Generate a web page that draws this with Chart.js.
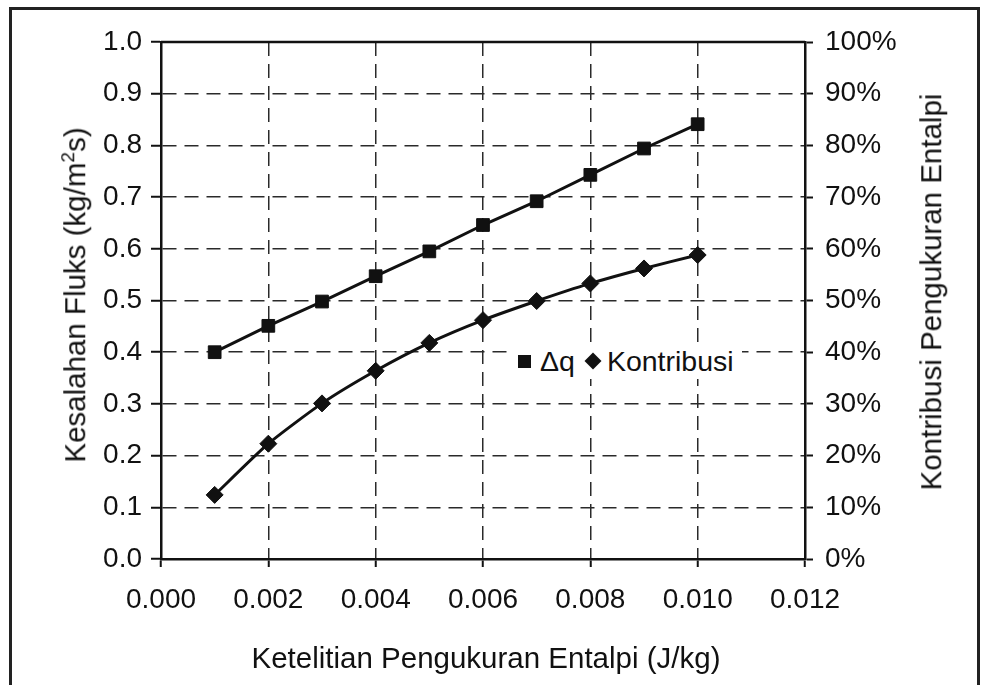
<!DOCTYPE html>
<html>
<head>
<meta charset="utf-8">
<script src="https://cdn.jsdelivr.net/npm/chart.js@4"></script>
<style>
  html, body { margin: 0; padding: 0; background: #fff; }
  body { width: 983px; height: 685px; position: relative; overflow: hidden; font-family: "Liberation Sans", Arial, sans-serif; color: #111; }
  #frame { position: absolute; left: 9px; top: 7px; width: 971px; height: 700px; border: 3px solid #222; box-sizing: border-box; }
  #wrap { position: absolute; left: 0; top: 0; width: 983px; height: 685px; }
  .title { position: absolute; font-size: 29.5px; white-space: nowrap; line-height: 1; }
  #xt { left: 486px; top: 658px; transform: translate(-50%, -50%); }
  #ylt { left: 75px; top: 295px; transform: translate(-50%, -50%) rotate(-90deg); }
  #yrt { left: 931px; top: 292px; transform: translate(-50%, -50%) rotate(-90deg); }
  sup { font-size: 19px; vertical-align: 11px; line-height: 0; }
  #legend { position: absolute; left: 510px; top: 343px; height: 36px; font-size: 28.5px; line-height: 36px; display: flex; align-items: center; background: #fff; padding: 0 8px; }
  .sq { display: inline-block; width: 13px; height: 13px; background: #111; margin-right: 9px; }
  .dm { display: inline-block; width: 12px; height: 12px; background: #111; transform: rotate(45deg); margin: 0 8px 0 12px; }
</style>
</head>
<body>
<div id="frame"></div>
<div id="wrap"><canvas id="c" width="983" height="685"></canvas></div>
<div class="title" id="xt"></div>
<div class="title" id="ylt"></div>
<div class="title" id="yrt"></div>
<div id="legend"><span class="sq"></span><span id="lg1"></span><span class="dm"></span><span id="lg2"></span></div>
<script>
const xValues = [0.001, 0.002, 0.003, 0.004, 0.005, 0.006, 0.007, 0.008, 0.009, 0.010];
const deltaQ = [0.40, 0.451, 0.498, 0.547, 0.595, 0.646, 0.692, 0.743, 0.794, 0.841];
const kontribusi = [12.4, 22.3, 30.1, 36.4, 41.8, 46.2, 49.9, 53.3, 56.2, 58.8];
const seriesNames = ["Δq", "Kontribusi"];
const xTitle = "Ketelitian Pengukuran Entalpi (J/kg)";
const yLeftTitle = "Kesalahan Fluks (kg/m<sup>2</sup>s)";
const yRightTitle = "Kontribusi Pengukuran Entalpi";

document.getElementById('xt').textContent = xTitle;
document.getElementById('ylt').innerHTML = yLeftTitle;
document.getElementById('yrt').textContent = yRightTitle;
document.getElementById('lg1').textContent = seriesNames[0];
document.getElementById('lg2').textContent = seriesNames[1];

const frameBox = {
  id: 'frameBox',
  afterDraw(chart) {
    const {ctx, chartArea: a} = chart;
    ctx.save();
    ctx.strokeStyle = '#111';
    ctx.lineWidth = 2.5;
    ctx.beginPath();
    ctx.moveTo(a.left, a.top); ctx.lineTo(a.right, a.top);
    ctx.stroke();
    ctx.restore();
  }
};

const font = { family: '"Liberation Sans", Arial, sans-serif', size: 28 };
const dash = [14, 8];

new Chart(document.getElementById('c'), {
  type: 'line',
  data: {
    datasets: [
      {
        label: seriesNames[0],
        data: xValues.map((x, i) => ({ x: x, y: deltaQ[i] })),
        yAxisID: 'y',
        borderColor: '#111',
        backgroundColor: '#111',
        borderWidth: 3,
        pointStyle: 'rect',
        pointRadius: 9,
        pointBorderWidth: 1,
        tension: 0
      },
      {
        label: seriesNames[1],
        data: xValues.map((x, i) => ({ x: x, y: kontribusi[i] })),
        yAxisID: 'y2',
        borderColor: '#111',
        backgroundColor: '#111',
        borderWidth: 3,
        pointStyle: 'rectRot',
        pointRadius: 8.5,
        pointBorderWidth: 1,
        tension: 0.2
      }
    ]
  },
  options: {
    responsive: false,
    animation: false,
    layout: { padding: { left: 0, right: 0, top: 42, bottom: 0 } },
    plugins: { legend: { display: false }, tooltip: { enabled: false } },
    scales: {
      x: {
        type: 'linear', min: 0, max: 0.012,
        afterFit: s => { s.height = 126; },
        ticks: { stepSize: 0.002, color: '#111', font: font, padding: 16, maxRotation: 0, callback: v => v.toFixed(3) },
        grid: { color: '#2a2a2a', lineWidth: 1.5, tickColor: '#111', tickLength: 8, tickWidth: 2 },
        border: { color: '#111', width: 2.5, dash: dash, display: true }
      },
      y: {
        type: 'linear', position: 'left', min: 0, max: 1,
        afterFit: s => { s.width = 161; },
        ticks: { stepSize: 0.1, color: '#111', font: font, padding: 9, callback: v => v.toFixed(1) },
        grid: { color: '#2a2a2a', lineWidth: 1.5, tickColor: '#111', tickLength: 10, tickWidth: 2 },
        border: { color: '#111', width: 2.5, dash: dash }
      },
      y2: {
        type: 'linear', position: 'right', min: 0, max: 100,
        afterFit: s => { s.width = 178; },
        ticks: { stepSize: 10, color: '#111', font: font, padding: 12, callback: v => v + '%' },
        grid: { drawOnChartArea: false, tickColor: '#111', tickLength: 8, tickWidth: 2 },
        border: { color: '#111', width: 2.5 }
      }
    }
  },
  plugins: [frameBox]
});
</script>
</body>
</html>
